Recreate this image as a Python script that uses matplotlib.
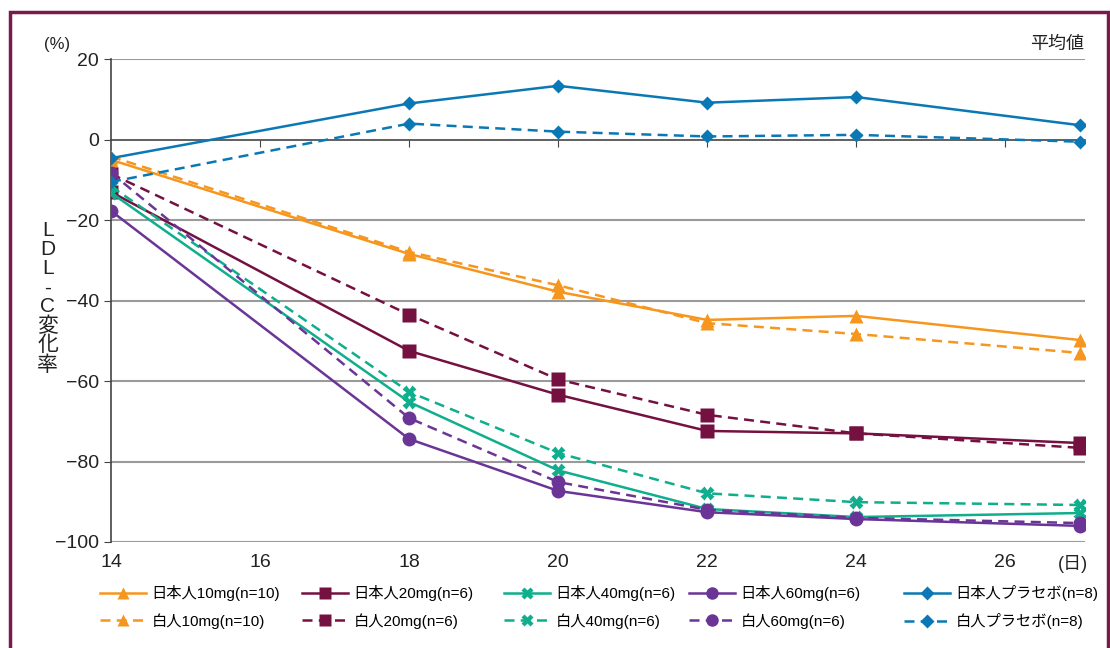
import matplotlib
matplotlib.use("Agg")
import matplotlib.pyplot as plt
from matplotlib.patches import Rectangle

plt.rcParams['font.family'] = ['Liberation Sans', 'Noto Sans CJK JP', 'DejaVu Sans']

days = [14, 18, 20, 22, 24, 27]

jp10 = [-5.0, -28.4, -37.8, -44.8, -43.8, -49.8]
w10 = [-4.2, -27.9, -36.2, -45.6, -48.3, -53.0]
jp20 = [-13.0, -52.5, -63.4, -72.4, -73.0, -75.4]
w20 = [-8.5, -43.5, -59.6, -68.4, -73.0, -76.6]
jp40 = [-13.2, -65.2, -82.2, -91.8, -93.8, -92.8]
w40 = [-11.6, -62.7, -77.9, -87.9, -90.1, -90.8]
jp60 = [-17.7, -74.4, -87.3, -92.6, -94.3, -96.0]
w60 = [-8.2, -69.2, -85.1, -92.0, -94.0, -95.3]
jppl = [-4.6, 9.0, 13.4, 9.2, 10.6, 3.6]
wpl = [-10.5, 4.0, 2.0, 0.8, 1.2, -0.5]

labels_jp = ['日本人10mg(n=10)', '日本人20mg(n=6)', '日本人40mg(n=6)', '日本人60mg(n=6)', '日本人プラセボ(n=8)']
labels_w = ['白人10mg(n=10)', '白人20mg(n=6)', '白人40mg(n=6)', '白人60mg(n=6)', '白人プラセボ(n=8)']

colors = ['#f7961e', '#741141', '#0fae8c', '#6b3597', '#0a78b4']
markers = ['^', 's', 'X', 'o', 'D']
msizes = [10, 10, 10, 10, 7.5]

fig = plt.figure(figsize=(11.1, 6.48), dpi=100)
ax = fig.add_axes([0.1, 0.1636, 0.8775, 0.745])

jp_series = [jp10, jp20, jp40, jp60, jppl]
w_series = [w10, w20, w40, w60, wpl]

handles = []
for i in range(5):
	h1, = ax.plot(days, jp_series[i], color=colors[i], lw=1.8, marker=markers[i],
		ms=msizes[i], mec='none', label=labels_jp[i], zorder=3)
	h2, = ax.plot(days, w_series[i], color=colors[i], lw=1.8, ls=(0, (4, 2.5)),
		marker=markers[i], ms=msizes[i], mec='none', label=labels_w[i], zorder=3)
	handles.append([h1, h2])

ax.set_xlim(14, 27.07)
ax.set_ylim(-100, 20)
ax.set_xticks([14, 16, 18, 20, 22, 24, 26])
ax.set_yticks([20, 0, -20, -40, -60, -80, -100])
for y in [20, -20, -40, -60, -80, -100]:
	ax.axhline(y, color='#9a9a9a', lw=1.5, zorder=1)

for s in ['top', 'right', 'bottom']:
	ax.spines[s].set_visible(False)
ax.spines['left'].set_color('#444444')
ax.spines['left'].set_linewidth(1.2)
ax.tick_params(axis='x', length=0, pad=9, labelsize=14, labelcolor='#222222')
ax.tick_params(axis='y', length=5, color='#444444', labelsize=14, labelcolor='#222222')

# zero line with day ticks
sec = ax.secondary_xaxis(100 / 120)
sec.set_xticks([16, 18, 20, 22, 24, 26])
sec.set_xticklabels([])
sec.tick_params(length=5, color='#444444', direction='in')
for s in sec.spines.values():
	s.set_color('#444444')
	s.set_linewidth(1.2)

fig.text(0.04, 0.925, '(%)', fontsize=12, color='#222222')
fig.text(0.977, 0.925, '平均値', fontsize=13, color='#222222', ha='right')
fig.text(0.98, 0.122, '(日)', fontsize=13, color='#222222', ha='right')
fig.text(0.043, 0.54, '\n'.join('LDL-C変化率'), fontsize=15, color='#222222',
	ha='center', va='center', linespacing=1.0)

# one legend column per dose, placed like the original
col_x = [94, 296, 498, 683, 898]
for i in range(5):
	fig.legend(handles=handles[i], loc='upper left', bbox_to_anchor=(col_x[i] / 1110, 0.106),
		frameon=False, fontsize=11, handlelength=3.0, handletextpad=0.35,
		labelspacing=0.75, borderaxespad=0, markerscale=0.9)

fig.patches.append(Rectangle((0.009, -0.05), 0.989, 1.0315, transform=fig.transFigure,
	fill=False, edgecolor='#7a1a4a', lw=2.5))

fig.savefig('out.png', dpi=100)
